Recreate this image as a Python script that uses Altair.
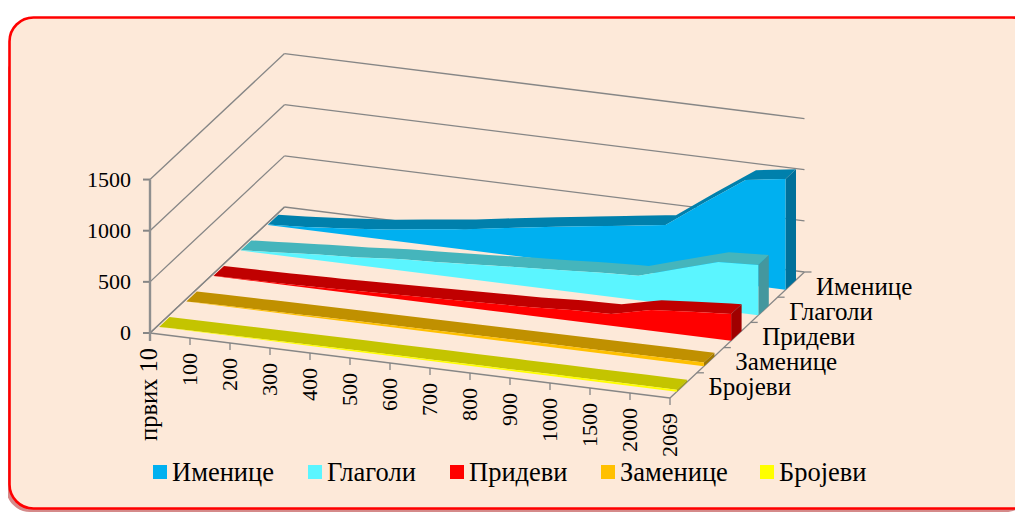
import altair as alt
import pandas as pd

# ---- chart values ----
categories = ["првих 10", "100", "200", "300", "400", "500", "600", "700", "800", "900", "1000", "1500", "2000", "2069"]
series = ["Бројеви", "Заменице", "Придеви", "Глаголи", "Именице"]
brojevi = [1, 4, 7, 9, 11, 13, 14, 15, 16, 17, 18, 19, 20, 20]
zamenice = [1, 6, 10, 13, 16, 19, 22, 24, 26, 28, 30, 32, 35, 36]
pridevi = [2, 7, 13, 22, 33, 46, 58, 70, 82, 105, 114, 202, 235, 261]
glagoli = [3, 28, 56, 77, 110, 128, 152, 177, 198, 223, 240, 357, 472, 492]
imenice = [5, 28, 62, 100, 152, 200, 262, 320, 376, 431, 487, 760, 1024, 1083]
values = [brojevi, zamenice, pridevi, glagoli, imenice]
y_ticks = [0, 500, 1000, 1500]

front_colors = ["#FFFF00", "#FFC000", "#FF0000", "#5BF5FF", "#00B0F0"]
top_colors = ["#C4C400", "#C09000", "#C00000", "#45B5BC", "#0080AC"]
side_colors = ["#A8A800", "#A07800", "#A00000", "#44979E", "#00709A"]

FONT = "Liberation Serif"
GRID = "#868686"

# ---- oblique projection of (category position, depth, value) onto the page ----
def proj(k, f, v=0):
    return (150 + 40 * k + 134.5 * f, 333 + 5 * k - 126 * f - 0.1023 * v)

def front_depth(i):
    return 0.05 + 0.2022 * i

def back_depth(i):
    return 0.128 + 0.2022 * i

positions = [0.06] + list(range(1, len(categories)))
LAST = len(categories) - 1

X = lambda f="x": alt.X(f"{f}:Q", scale=alt.Scale(domain=[8, 1015], range=[0, 1007], nice=False, zero=False), axis=None)
Y = lambda f="y": alt.Y(f"{f}:Q", scale=alt.Scale(domain=[8, 512], range=[0, 504], nice=False, zero=False), axis=None)
X2 = lambda f="x2": alt.X2(f"{f}:Q")
Y2 = lambda f="y2": alt.Y2(f"{f}:Q")


def slices(poly):
    """Vertical spans of an x-monotone polygon, so an area mark can fill it."""
    rows = []
    for x in sorted({round(p[0], 3) for p in poly}):
        ys = []
        for a, b in zip(poly, poly[1:] + poly[:1]):
            lo, hi = sorted((a[0], b[0]))
            if lo - 1e-3 <= x <= hi + 1e-3:
                if abs(b[0] - a[0]) < 1e-6:
                    ys += [a[1], b[1]]
                else:
                    ys.append(a[1] + (b[1] - a[1]) * (x - a[0]) / (b[0] - a[0]))
        rows.append({"x": x, "y": min(ys), "y2": max(ys)})
    return pd.DataFrame(rows)


def face(poly, color):
    return alt.Chart(slices(poly)).mark_area(color=color, opacity=1, interpolate="linear", strokeWidth=0).encode(
        x=X(), y=Y(), y2=Y2()
    )


def rules(rows, color=GRID, width=1.0):
    return alt.Chart(pd.DataFrame(rows, columns=["x", "y", "x2", "y2"])).mark_rule(
        color=color, strokeWidth=width
    ).encode(x=X(), y=Y(), x2=X2(), y2=Y2())


def labels(rows, size=22, **kw):
    return alt.Chart(pd.DataFrame(rows, columns=["x", "y", "t"])).mark_text(
        font=FONT, fontSize=size, color="#000000", **kw
    ).encode(x=X(), y=Y(), text="t:N")


layers = []

# card: shadow, then rounded panel
layers.append(
    alt.Chart(pd.DataFrame([{"x": 6, "x2": 1030, "y": 53, "y2": 512}])).mark_rect(
        color="#D58A8A", cornerRadius=24, clip=True
    ).encode(x=X(), x2=X2(), y=Y(), y2=Y2())
)
layers.append(
    alt.Chart(pd.DataFrame([{"x": 9.5, "x2": 1036, "y": 17.5, "y2": 508.5}])).mark_rect(
        fill="#FDE9D9", stroke="#FF0000", strokeWidth=2.6, cornerRadius=24, clip=True
    ).encode(x=X(), x2=X2(), y=Y(), y2=Y2())
)

# walls and floor
grid = []
for t in y_ticks:
    a = proj(0, 0, t)
    b = proj(0, 1, t)
    c = proj(13, 1, t)
    grid.append((*a, *b))
    grid.append((*b, *c))
grid.append((*proj(0, 0), *proj(13, 0)))
grid.append((*proj(13, 0), *proj(13, 1)))
grid.append((*proj(0, 0), *proj(0, 1)))
ticks = []
for k in range(len(categories)):
    x, y = proj(k, 0)
    ticks.append((x, y, x, y + 7))
for i in range(1, 6):
    x, y = proj(13, i / 5)
    ticks.append((x, y, x + 7, y))
layers.append(rules(grid + ticks, width=1.3))
layers.append(rules([(150, proj(0, 0, t)[1], 143, proj(0, 0, t)[1]) for t in y_ticks], width=2))
layers.append(rules([(150, proj(0, 0, 1500)[1], 150, proj(0, 0)[1] + 8)], color="#8F8F8F", width=2.4))

# ribbons, back to front
for i in range(len(series) - 1, -1, -1):
    v = values[i]
    ff, bf = front_depth(i), back_depth(i)
    front_top = [proj(k, ff, val) for k, val in zip(positions, v)]
    front_base = [proj(k, ff) for k in positions]
    back_top = [proj(k, bf, val) for k, val in zip(positions, v)]
    layers.append(face(back_top + front_top[::-1], top_colors[i]))
    layers.append(face([front_top[-1], back_top[-1], proj(LAST, bf), front_base[-1]], side_colors[i]))
    layers.append(face(front_top + front_base[::-1], front_colors[i]))

# axis texts
layers.append(labels([(131, proj(0, 0, t)[1], str(t)) for t in y_ticks], align="right", baseline="middle"))
x_rows = []
for k, name in enumerate(categories[1:], start=1):
    x, y = proj(k, 0)
    x_rows.append((x, y + 15, name))
layers.append(labels(x_rows, align="right", baseline="middle", angle=270))
x0, y0 = proj(0, 0)
layers.append(labels([(x0, y0 + 15, categories[0])], size=24.5, align="right", baseline="middle", angle=270))
depth_rows = []
for i, name in enumerate(series):
    x, y = proj(13, (i + 0.5) / 5)
    depth_rows.append((x + 25, y + 2, name))
layers.append(labels(depth_rows, size=25, align="left", baseline="middle"))

# legend
legend_order = series[::-1]
legend_colors = front_colors[::-1]
key_x = [160, 315, 457, 608, 767]
for name, col, kx in zip(legend_order, legend_colors, key_x):
    layers.append(
        alt.Chart(pd.DataFrame([{"x": kx - 7, "x2": kx + 7, "y": 465, "y2": 479}])).mark_rect(color=col).encode(
            x=X(), x2=X2(), y=Y(), y2=Y2()
        )
    )
    layers.append(labels([(kx + 12, 473, name)], size=26.5, align="left", baseline="middle"))

chart = (
    alt.layer(*layers)
    .properties(width=1007, height=504, padding=0, background="#FFFFFF", autosize=alt.AutoSizeParams(type="none"))
    .configure_view(stroke=None)
)
chart.save("out.html", embed_options={"renderer": "svg", "actions": False})
